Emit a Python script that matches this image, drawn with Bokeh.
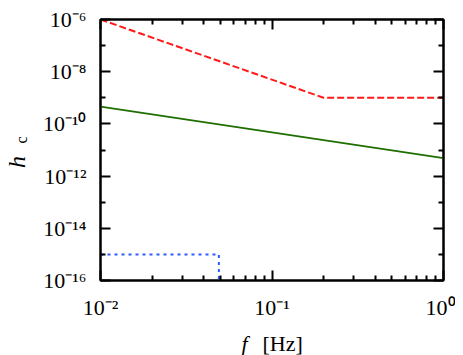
import math
from bokeh.plotting import figure
from bokeh.layouts import column
from bokeh.models import Range1d, LogAxis, FixedTicker, Label
from bokeh.embed import file_html
from bokeh.resources import INLINE

# ---- data ----
freq_red = [0.01, 0.2, 1.0]
hc_red = [1e-6, 1e-9, 1e-9]
freq_green = [0.01, 1.0]
hc_green = [4.6e-10, 4.9e-12]
freq_blue = [0.01, 0.049, 0.049]
hc_blue = [1e-15, 1e-15, 1e-16]

x_ticks = [0.01, 0.1, 1.0]
x_tick_labels = ["10⁻²", "10⁻¹", "10⁰"]
y_ticks = [1e-16, 1e-14, 1e-12, 1e-10, 1e-8, 1e-6]
y_tick_labels = ["10⁻¹⁶", "10⁻¹⁴", "10⁻¹²", "10⁻¹⁰", "10⁻⁸", "10⁻⁶"]
y_minor = [1e-15, 1e-13, 1e-11, 1e-9, 1e-7]
x_minor = [k * 10.0 ** d for d in (-2, -1) for k in range(2, 10)]

FONT = "Liberation Serif"
MAIN_H = 325
NB = "\u00a0"

p = figure(width=455, height=MAIN_H, x_axis_type="log", y_axis_type="log",
           x_range=Range1d(0.01, 1.0), y_range=Range1d(1e-16, 1e-6),
           output_backend="svg", toolbar_location=None,
           min_border_left=100, min_border_right=12, min_border_top=19, min_border_bottom=45)
p.grid.visible = False
p.outline_line_color = "black"
p.outline_line_width = 2
p.background_fill_color = "white"
p.border_fill_color = "white"

p.line(freq_red, hc_red, line_color="#ff1a1a", line_width=2, line_dash="7 3")
p.line(freq_green, hc_green, line_color="#1f6e00", line_width=1.8)
p.line(freq_blue, hc_blue, line_color="#2a5cff", line_width=2, line_dash="3 4")

xt = FixedTicker(ticks=x_ticks, minor_ticks=x_minor)
yt = FixedTicker(ticks=y_ticks, minor_ticks=y_minor)

def style(ax, ticker, labels, show):
    ax.ticker = ticker
    ax.axis_line_color = "black"
    ax.axis_line_width = 2
    ax.major_tick_in = 10
    ax.major_tick_out = 0
    ax.minor_tick_in = 5
    ax.minor_tick_out = 0
    ax.major_tick_line_width = 2
    ax.minor_tick_line_width = 2
    ax.major_tick_line_color = "black"
    ax.minor_tick_line_color = "black"
    if show:
        ax.major_label_overrides = dict(zip(ticker.ticks, labels))
        ax.major_label_text_font = FONT
        ax.major_label_text_font_size = "22px"
        ax.major_label_text_color = "black"
    else:
        ax.major_label_overrides = {t: "" for t in ticker.ticks}
        ax.major_label_text_font_size = "0px"
        ax.major_label_standoff = 0

style(p.xaxis[0], xt, x_tick_labels, True)
style(p.yaxis[0], yt, y_tick_labels, True)
p.xaxis[0].major_label_standoff = 14
p.yaxis[0].major_label_standoff = 14

# y title: subscript "c" on the main axis, italic "h" on a bare outer axis
p.yaxis[0].axis_label = NB * 5 + "c"
p.yaxis[0].axis_label_text_font = FONT
p.yaxis[0].axis_label_text_font_style = "normal"
p.yaxis[0].axis_label_text_font_size = "16px"
p.yaxis[0].axis_label_text_color = "black"
p.yaxis[0].axis_label_standoff = 10

h_axis = LogAxis(ticker=FixedTicker(ticks=[]), axis_label="h" + NB * 4,
                 axis_label_text_font=FONT, axis_label_text_font_style="italic",
                 axis_label_text_font_size="24px", axis_label_text_color="black",
                 axis_label_standoff=-20, axis_line_color=None,
                 major_tick_line_color=None, minor_tick_line_color=None,
                 major_tick_in=0, major_tick_out=0, minor_tick_in=0, minor_tick_out=0,
                 major_label_text_font_size="0px", major_label_standoff=0)
p.add_layout(h_axis, "left")

top = LogAxis()
right = LogAxis()
style(top, FixedTicker(ticks=x_ticks, minor_ticks=x_minor), None, False)
style(right, FixedTicker(ticks=y_ticks, minor_ticks=y_minor), None, False)
p.add_layout(top, "above")
p.add_layout(right, "right")

# strip figure below that holds the x title (its frame is aligned with the main frame)
XH = 30
xfig = figure(width=455, height=XH, x_range=Range1d(0, 455), y_range=Range1d(0, XH),
              output_backend="svg", toolbar_location=None,
              x_axis_location=None, y_axis_location=None,
              min_border=0, min_border_left=0, min_border_right=0,
              min_border_top=0, min_border_bottom=0)
xfig.grid.visible = False
xfig.outline_line_color = None
xfig.background_fill_color = "white"
xfig.border_fill_color = "white"
xfig.add_layout(Label(x=141, y=12, x_units="screen", y_units="screen", text="f",
                      text_font=FONT, text_font_style="italic",
                      text_baseline="alphabetic",
                      text_font_size="22px", text_color="black"))
xfig.add_layout(Label(x=162, y=12, x_units="screen", y_units="screen", text="[Hz]",
                      text_font=FONT, text_font_size="22px",
                      text_baseline="alphabetic", text_color="black"))

layout = column(p, xfig, spacing=0)

open("out.html", "w").write(file_html(layout, INLINE))
